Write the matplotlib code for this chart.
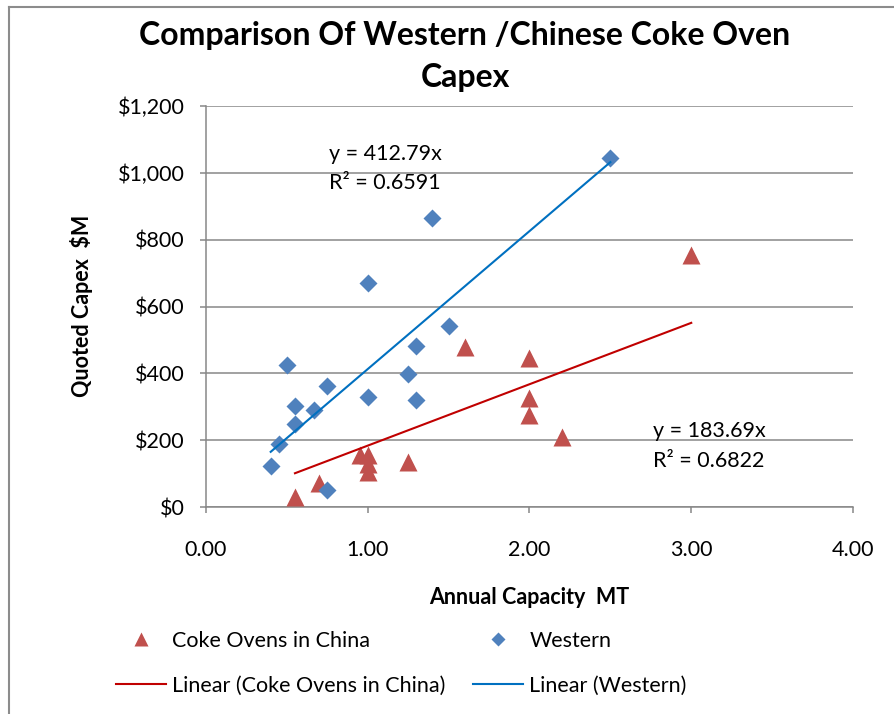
import matplotlib.pyplot as plt
from matplotlib.lines import Line2D
from matplotlib.ticker import FuncFormatter
import numpy as np

plt.rcParams['font.family'] = ['Lato', 'DejaVu Sans']

# data
china_x = [0.55, 0.70, 0.95, 1.00, 1.00, 1.00, 1.25, 1.60, 2.00, 2.00, 2.00, 2.20, 3.00]
china_y = [30, 73, 156, 155, 130, 106, 136, 480, 447, 325, 275, 210, 755]

west_x = [0.40, 0.45, 0.50, 0.55, 0.55, 0.67, 0.75, 0.75, 1.00, 1.00, 1.25, 1.30, 1.30, 1.40, 1.50, 2.50]
west_y = [123, 189, 425, 248, 302, 290, 362, 52, 670, 329, 398, 482, 320, 865, 542, 1045]

# trendline slopes (linear fit through origin, as labelled)
china_slope = 183.69
china_r2 = 0.6822
west_slope = 412.79
west_r2 = 0.6591

china_col = '#C0504D'
west_col = '#4F81BD'
china_line = '#C00000'
west_line = '#0070C0'
grid_col = '#878787'
fs = 15.5

fig = plt.figure(figsize=(8.95, 7.14), dpi=100)
ax = fig.add_axes([206/895, 1-507/714, 647/895, 401/714])

ax.plot(china_x, china_y, '^', ms=13, color=china_col, mec='none', zorder=3)
ax.plot(west_x, west_y, 'D', ms=9, color=west_col, mec='none', zorder=4)

xc = np.array([min(china_x), max(china_x)])
xw = np.array([min(west_x), max(west_x)])
ax.plot(xc, china_slope*xc, color=china_line, lw=1.5, zorder=5)
ax.plot(xw, west_slope*xw, color=west_line, lw=1.5, zorder=5)

ax.set_xlim(0, 4)
ax.set_ylim(0, 1200)
ax.set_xticks([0, 1, 2, 3, 4])
ax.set_yticks(range(0, 1201, 200))
ax.xaxis.set_major_formatter(FuncFormatter(lambda v, p: '%.2f' % v))
ax.yaxis.set_major_formatter(FuncFormatter(lambda v, p: '${:,.0f}'.format(v)))
ax.tick_params(axis='both', labelsize=fs, color=grid_col, width=1.1, length=4.5)
ax.tick_params(axis='x', pad=19)
ax.tick_params(axis='y', pad=11)
ax.yaxis.grid(True, color=grid_col, lw=1.1)
ax.set_axisbelow(True)
for s in ['top', 'right']:
    ax.spines[s].set_visible(False)
for s in ['left', 'bottom']:
    ax.spines[s].set_color(grid_col)
    ax.spines[s].set_linewidth(1.1)

ax.text(1.107, 1057, 'y = %.2fx' % west_slope, fontsize=fs, ha='center', va='center')
ax.text(1.107, 970, 'R² = %.4f' % west_r2, fontsize=fs, ha='center', va='center')
ax.text(3.11, 227, 'y = %.2fx' % china_slope, fontsize=fs, ha='center', va='center')
ax.text(3.11, 138, 'R² = %.4f' % china_r2, fontsize=fs, ha='center', va='center')

fig.text(465/895, 1-35/714, 'Comparison Of Western /Chinese Coke Oven',
         fontsize=23, fontweight='bold', ha='center', va='center')
fig.text(465/895, 1-77/714, 'Capex', fontsize=23, fontweight='bold', ha='center', va='center')
fig.text(529/895, 1-598/714, 'Annual Capacity  MT', fontsize=fs, fontweight='bold',
         ha='center', va='center')
fig.text(82/895, 1-306/714, 'Quoted Capex  $M', fontsize=fs, fontweight='bold',
         ha='center', va='center', rotation=90)

handles = [
    Line2D([], [], marker='^', ls='none', ms=10, color=china_col, mec='none'),
    Line2D([], [], color=china_line, lw=1.5),
    Line2D([], [], marker='D', ls='none', ms=7, color=west_col, mec='none'),
    Line2D([], [], color=west_line, lw=1.5),
]
labels = ['Coke Ovens in China', 'Linear (Coke Ovens in China)', 'Western', 'Linear (Western)']
fig.legend(handles, labels, ncol=2, loc='center left', bbox_to_anchor=(116/895, 1-663/714),
           frameon=False, fontsize=fs, borderpad=0, borderaxespad=0, handlelength=2.3,
           handletextpad=0.3, columnspacing=1.3, labelspacing=1.15)

# chart border (only left and top edges visible in the crop)
fig.add_artist(Line2D([9.5/895, 9.5/895], [0, 1-6.5/714], color='#8c8c8c', lw=1.5,
                      transform=fig.transFigure))
fig.add_artist(Line2D([9.5/895, 1], [1-6.5/714, 1-6.5/714], color='#8c8c8c', lw=1.5,
                      transform=fig.transFigure))

fig.savefig('out.png', dpi=100)
